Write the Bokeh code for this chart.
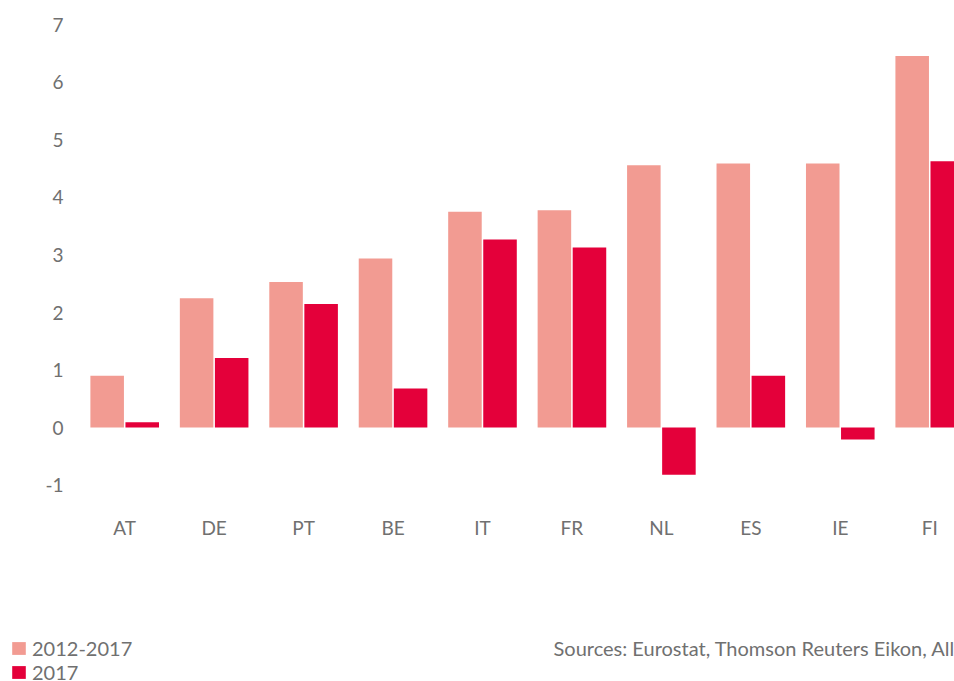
from bokeh.plotting import figure
from bokeh.models import ColumnDataSource, Range1d, FixedTicker, Legend, LegendItem, Label
from bokeh.transform import dodge
from bokeh.embed import file_html
from bokeh.resources import INLINE

countries = ["AT", "DE", "PT", "BE", "IT", "FR", "NL", "ES", "IE", "FI"]
period_2012_2017 = [0.90, 2.25, 2.53, 2.94, 3.75, 3.78, 4.56, 4.59, 4.59, 6.46]
year_2017 = [0.09, 1.21, 2.15, 0.68, 3.27, 3.13, -0.82, 0.90, -0.21, 4.63]
y_ticks = [-1, 0, 1, 2, 3, 4, 5, 6, 7]
y_tick_labels = ["-1", "0", "1", "2", "3", "4", "5", "6", "7"]

LIGHT = "#f29b92"
DARK = "#e4003a"
FONT = "Lato"
GREY = "#707070"

src = ColumnDataSource(dict(
    x=list(range(len(countries))),
    a=period_2012_2017,
    b=year_2017,
))

p = figure(width=954, height=681, output_backend="svg", toolbar_location=None,
           x_range=Range1d(-1.3885, 9.277), y_range=Range1d(-4.417, 7.252),
           min_border_left=0, min_border_right=0, min_border_top=10, min_border_bottom=0)
p.outline_line_color = None
p.xgrid.grid_line_color = None
p.ygrid.grid_line_color = None

r1 = p.vbar(x=dodge("x", -0.196), top="a", bottom=0, width=0.375, source=src,
            fill_color=LIGHT, line_color=None)
r2 = p.vbar(x=dodge("x", 0.196), top="b", bottom=0, width=0.375, source=src,
            fill_color=DARK, line_color=None)

p.xaxis.ticker = FixedTicker(ticks=list(range(len(countries))))
p.xaxis.major_label_overrides = {i: c for i, c in enumerate(countries)}
p.xaxis.fixed_location = -1.374
p.yaxis.ticker = FixedTicker(ticks=y_ticks)
p.yaxis.major_label_overrides = dict(zip(y_ticks, y_tick_labels))
p.yaxis.fixed_location = -0.628
for ax in (p.xaxis, p.yaxis):
    ax.axis_line_color = None
    ax.major_tick_line_color = None
    ax.minor_tick_line_color = None
    ax.major_tick_in = 0
    ax.major_tick_out = 0
    ax.major_label_text_font = FONT
    ax.major_label_text_font_size = "19px"
    ax.major_label_text_color = GREY
p.xaxis.major_label_standoff = 9
p.yaxis.major_label_standoff = 5

legend = Legend(items=[LegendItem(label="2012-2017", renderers=[r1]),
                       LegendItem(label="2017", renderers=[r2])],
                location=(10, -3), orientation="vertical",
                glyph_width=17, glyph_height=16, label_height=16, spacing=0,
                label_standoff=5, padding=0, margin=0,
                border_line_color=None, background_fill_alpha=0,
                label_text_font=FONT, label_text_font_size="20px",
                label_text_color=GREY)
p.add_layout(legend, "center")

p.add_layout(Label(x=553, y=34, x_units="screen", y_units="screen",
                   text="Sources: Eurostat, Thomson Reuters Eikon, Allianz Research",
                   text_font=FONT, text_font_size="20px", text_color=GREY,
                   text_baseline="middle"))

open("out.html", "w").write(file_html(p, INLINE))
